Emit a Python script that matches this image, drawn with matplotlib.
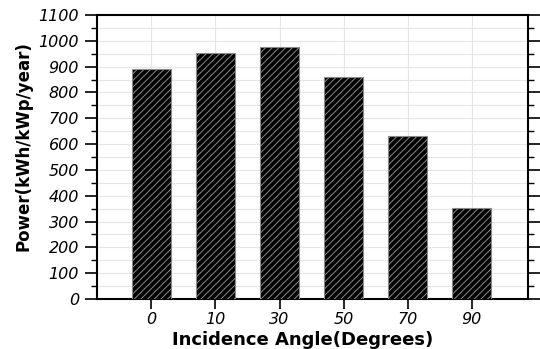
import matplotlib
matplotlib.use("Agg")
import matplotlib.pyplot as plt
from matplotlib.ticker import MultipleLocator

angles = ["0", "10", "30", "50", "70", "90"]
power = [890, 953, 975, 860, 632, 353]

plt.rcParams['font.family'] = ['DejaVu Sans']
plt.rcParams['hatch.linewidth'] = 0.7

fig = plt.figure(figsize=(5.4, 3.49), dpi=100)
ax = fig.add_axes([97/540, 1 - 299/349, (528-97)/540, (299-15)/349])

x = list(range(len(angles)))
ax.bar(x, power, width=0.6, color='black', edgecolor='#8a8a8a',
       hatch='/////', linewidth=0.8, zorder=3)

ax.set_xlim(-0.85, 5.88)
ax.set_ylim(0, 1100)
ax.set_xticks(x)
ax.set_xticklabels(angles, fontstyle='italic', fontsize=11.5)
ax.yaxis.set_major_locator(MultipleLocator(100))
ax.yaxis.set_minor_locator(MultipleLocator(50))
for lab in ax.get_yticklabels():
    lab.set_fontstyle('italic')
    lab.set_fontsize(11.5)

# light grid every 50 on y, at each category on x
ax.grid(True, which='both', axis='y', color='#e6e6e6', lw=0.8, zorder=0)
ax.grid(True, which='major', axis='x', color='#e6e6e6', lw=0.8, zorder=0)

ax.tick_params(axis='y', which='major', length=9, width=1.2, direction='out',
               right=True, labelright=False, pad=4)
ax.tick_params(axis='y', which='minor', length=4, width=1.0, direction='out',
               right=True)
ax.tick_params(axis='x', which='major', length=7, width=1.2, direction='out', pad=2)
for s in ax.spines.values():
    s.set_linewidth(1.5)

ax.set_xlabel("Incidence Angle(Degrees)", fontweight='bold', fontsize=13)
ax.set_ylabel("Power(kWh/kWp/year)", fontweight='bold', fontsize=12)
ax.xaxis.set_label_coords(0.477, -0.112)
ax.yaxis.set_label_coords(-0.15, 0.54)

fig.savefig("out.png", dpi=100)
